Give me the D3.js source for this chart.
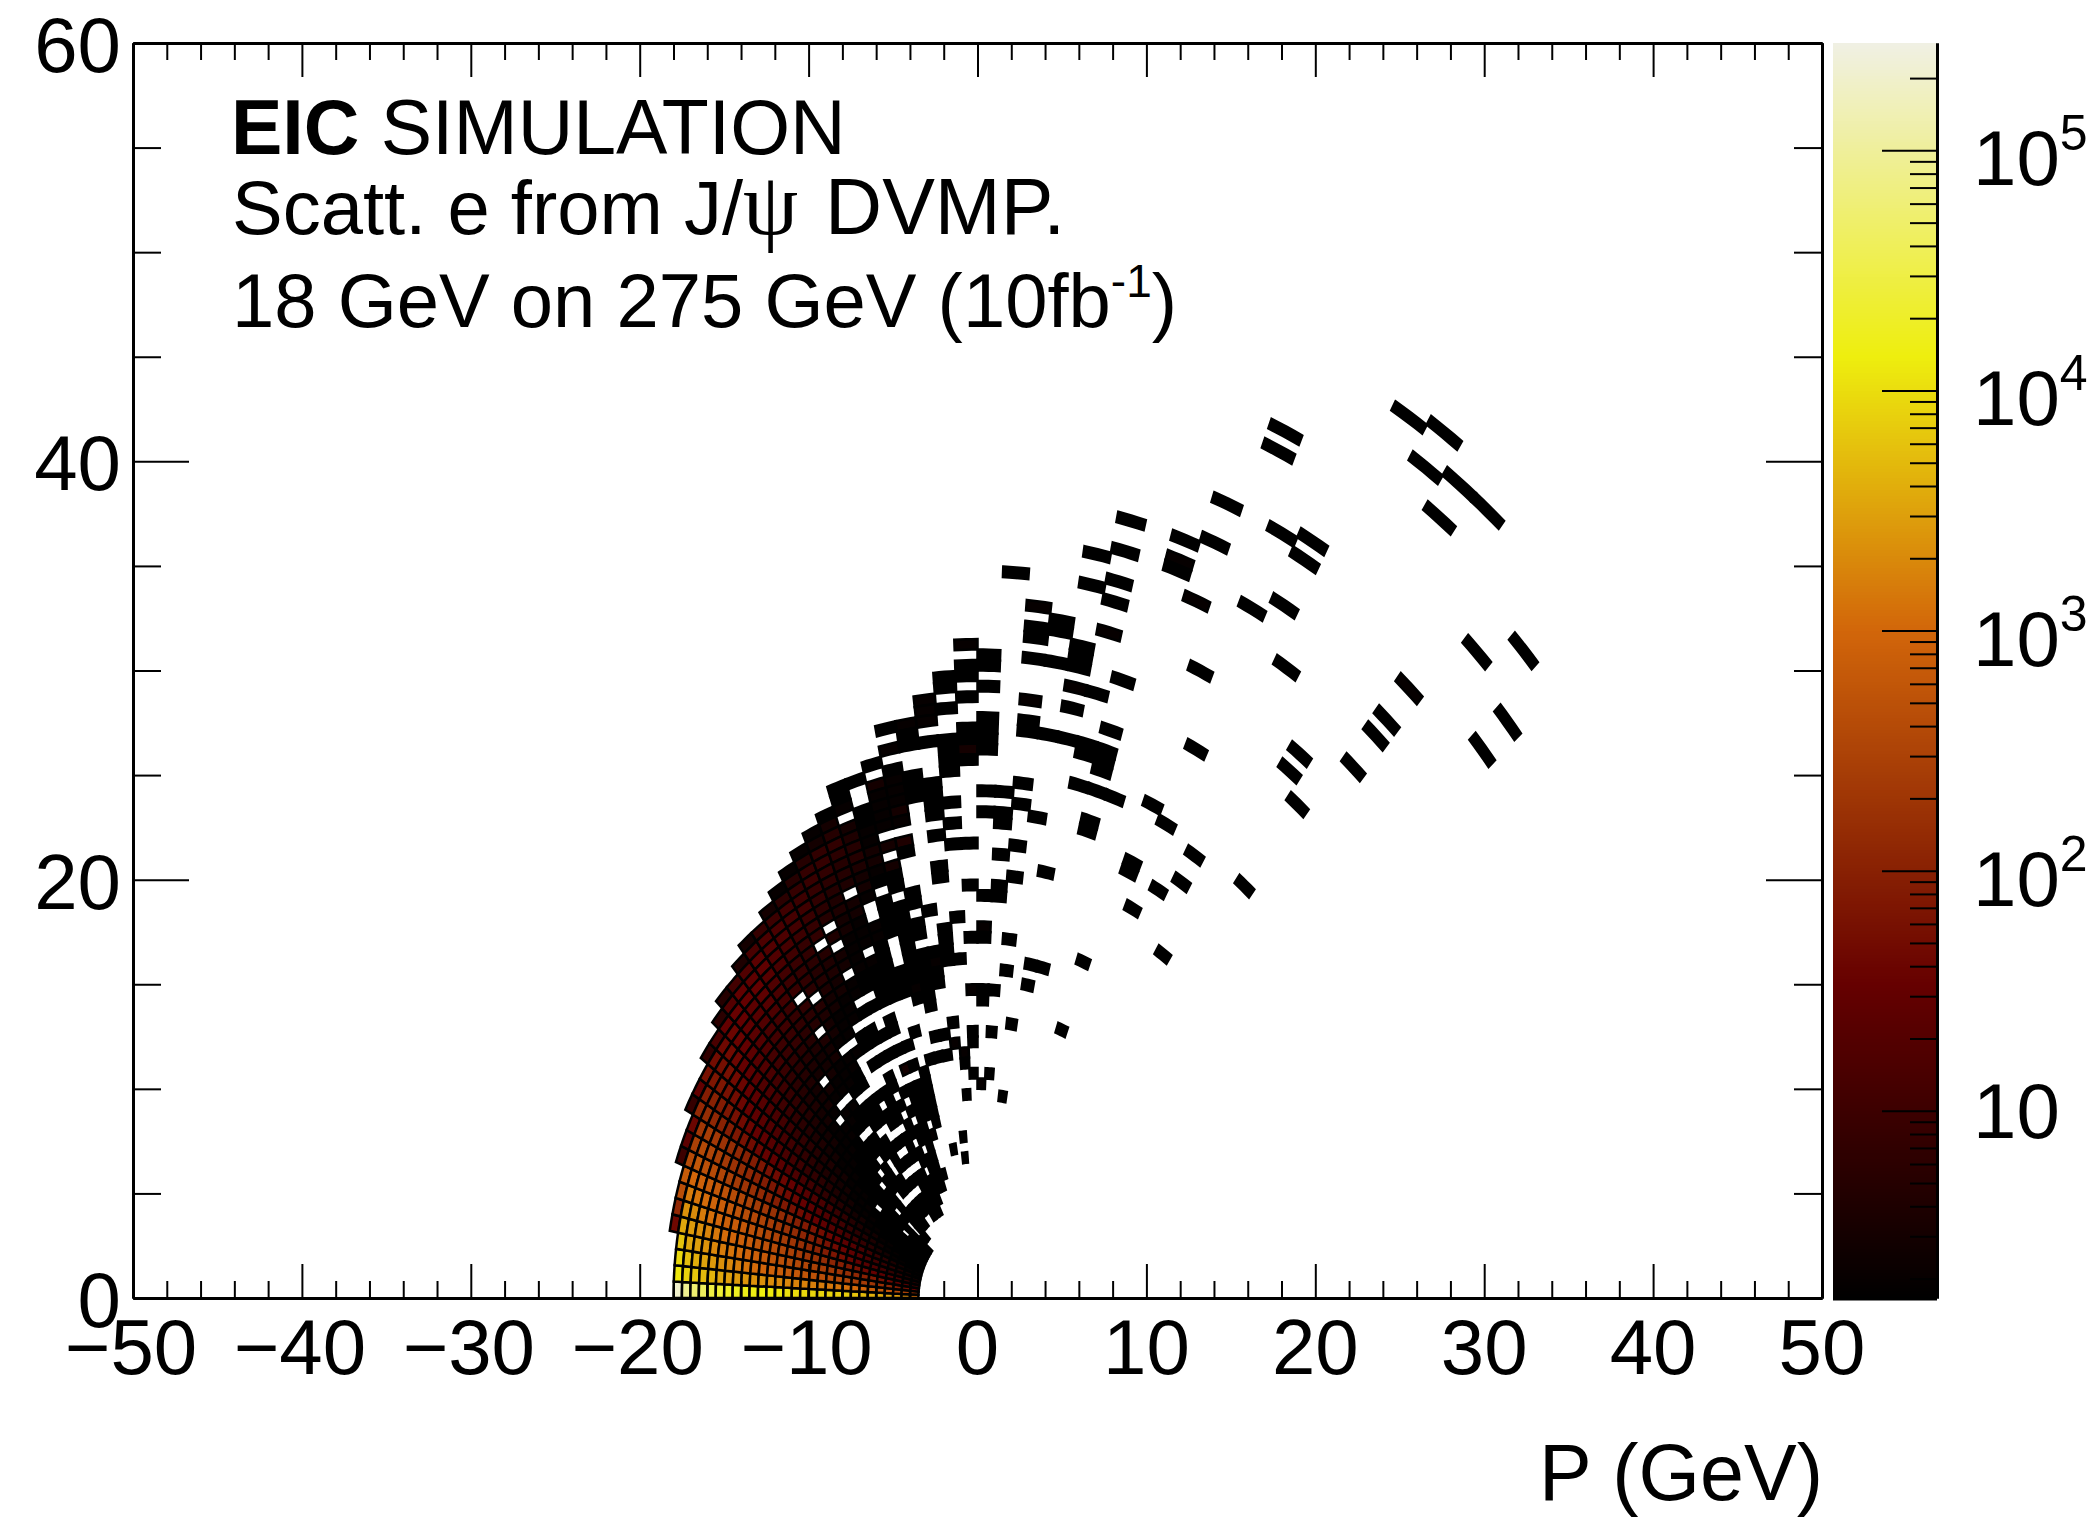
<!DOCTYPE html>
<html>
<head>
<meta charset="utf-8">
<script src="https://cdn.jsdelivr.net/npm/d3@7"></script>
<style>
  html, body { margin: 0; padding: 0; background: #fff; }
  svg { display: block; }
  text { font-family: "Liberation Sans", Arial, sans-serif; fill: #000; }
</style>
</head>
<body>
<script>
// Histogram binning: 0.5 GeV in P, 2.5 degrees in theta
const pBinWidth = 0.5;
const thetaBinWidth = 2.5;

// Outermost P bin of each dense theta row (counts below run inwards from it)
const rowOuter = [35,35,35,35,36,36,36,36,37,37,37,38,38,38,39,39,40,41,41,42,43,43,44,45,46,47,48,49,51,51,52,55,55,57,59,62,61];

// Counts per cell, one list per theta row, 0 means an empty cell
const rowCounts = [
  [200000,85000,55000,42000,30000,24000,20000,18000,16000,15000,14000,12500,11500,10500,10000,9000,8500,8200,8000,7500,7000,6000,5000,4000,3600,3200,2800,2000,1200],
  [12000,8000,6500,5000,4500,3500,3000,2800,2500,2300,2200,2100,2000,1900,1800,1700,1600,1500,1400,1300,1200,1050,900,800,650,500,400,280,180],
  [9000,5500,4000,3200,2600,2200,1900,1600,1300,1100,950,850,750,680,620,560,500,450,400,360,320,280,240,200,160,120,85,55,35],
  [6000,3500,3000,2400,1900,1500,1300,1100,900,800,650,550,480,420,370,330,290,250,220,190,160,130,100,80,60,45,30,20,12],
  [45,3500,2800,2200,1800,1400,1100,950,800,700,560,480,400,330,280,240,200,170,140,115,95,75,60,45,34,25,18,12,8,5],
  [130,2300,2000,1500,1200,1000,800,700,600,500,420,350,290,240,200,160,130,105,85,68,52,40,30,22,16,12,8,6,4,3],
  [450,1500,1300,1100,900,750,620,520,430,360,300,250,210,170,140,115,95,75,60,48,37,28,21,15,11,8,6,4,3,2],
  [700,1000,850,720,600,500,420,350,290,240,200,170,140,115,95,80,65,52,42,33,26,20,15,11,8,6,4,3,2,2],
  [10,400,600,480,400,340,280,230,190,160,135,110,90,75,60,50,42,34,28,22,17,13,10,8,6,4,3,2,2,1,1],
  [25,280,380,320,270,220,180,150,125,100,85,70,58,48,40,33,27,22,18,14,11,8,6,5,4,3,2,2,1,1,1],
  [40,210,260,220,180,150,125,100,85,70,58,48,40,33,27,22,18,15,12,9,7,5,4,3,3,2,2,1,1,1,1],
  [8,130,150,125,105,88,72,60,50,42,35,29,24,20,16,13,11,9,7,6,5,4,3,3,2,2,1,1,1,1,1,1],
  [30,90,100,85,70,58,48,40,33,27,22,18,15,12,10,8,7,6,5,4,3,3,2,2,2,1,1,1,1,1,1,1],
  [60,70,72,60,50,42,35,28,23,19,16,13,11,9,7,6,5,4,4,3,3,2,2,2,1,1,1,1,1,1,1,1],
  [7,50,55,58,48,40,33,27,22,18,15,12,10,8,7,6,5,4,4,3,3,2,2,2,1,0,1,1,1,0,1,1,1],
  [15,45,48,42,34,28,23,19,16,13,11,9,7,6,5,4,4,3,3,2,2,2,1,1,1,1,1,1,1,1,1,1,1],
  [6,32,40,38,32,26,22,18,15,12,10,8,7,6,5,4,3,3,3,2,2,2,1,1,1,1,1,1,0,1,0,0,1],
  [5,20,35,32,28,24,20,16,13,11,9,7,6,5,4,4,3,3,2,2,2,2,1,1,1,1,0,1,1,1,1,1,1,1],
  [12,30,32,26,22,18,15,12,10,9,7,6,5,4,3,3,3,2,0,2,2,1,1,1,1,0,1,1,0,0,1,1,1],
  [4,18,26,32,28,21,16,13,11,9,8,6,5,4,3,0,3,2,0,2,2,1,0,1,1,0,1,1,1,1,0,1,1,1],
  [3,14,25,28,22,18,15,12,10,8,7,6,5,4,3,3,3,2,2,0,2,1,1,0,1,1,1,0,0,1,1,0,1,1],
  [8,16,20,18,15,12,10,9,0,7,6,5,0,4,3,3,2,2,2,1,0,1,1,1,0,1,1,1,1,0,1,0,1,1],
  [3,10,15,16,13,11,9,8,7,6,0,5,4,3,3,2,0,2,2,1,1,0,1,1,1,0,0,1,0,1,0,1,0,1,1,1],
  [2,6,11,13,12,10,8,7,6,5,5,4,3,3,2,2,2,0,2,0,0,0,0,1,0,1,1,0,1,0,1,0,1,1,1,1,1],
  [2,5,8,10,11,9,8,7,0,5,4,4,3,3,2,2,2,0,1,1,0,1,0,0,1,1,1,1,0,1,1,1,0,1,1,1,1,1],
  [2,5,8,9,8,7,6,5,0,4,0,3,3,0,2,2,0,1,0,1,1,0,1,0,1,1,0,1,0,1,1,0,1,1,0,1,1,1],
  [2,3,7,8,7,6,5,4,4,3,3,2,2,2,2,1,1,0,1,0,0,1,0,1,0,0,0,1,0,1,0,1,1,0,1,1,1,1],
  [1,3,5,7,6,5,5,4,0,3,3,2,2,2,0,2,1,1,1,1,0,1,1,0,1,0,3,0,1,1,1,1,1,1,1,1,1,1,1],
  [1,1,2,0,3,4,5,5,4,3,3,2,0,0,2,2,1,1,1,1,1,1,0,0,0,0,1,0,1,0,1,1,1,1,0,2,0,0,0,1],
  [1,0,0,1,1,2,2,3,3,2,1,0,1,1,1,1,0,0,0,1,1,1,0,0,0,1,0,0,0,1,1,1,1,1,1],
  [1,0,3,2,2,2,2,0,3,0,3,1,1,0,1,1,1,1,1,1,1,1,2,1,0,0,0,0,0,1],
  [1,0,2,0,1,2,2,2,3,2,0,4,1,0,0,0,1,1,0,1,1,0,1,1,1,1,1,1,0,0,1,0,1,0,0,0,0,0,0,0,0,1],
  [2,1,1,0,0,1,1,1,0,0,0,0,0,0,0,0,0,0,1,0,0,0,1,2,1,1,0,0,0,0,1,0,1],
  [2,2,2,0,1,0,0,0,1,1,1,1,0,1,0,0,1,1,0,0,0,0,1,1,1,1,0,0,0,0,0,1,0,2,0,0,0,0,0,0,0,0,1,0,1],
  [1,1,0,1,0,0,1,1,1,1,0,0,1,0,1,0,1,0,0,0,0,0,0,1,0,0,0,1,0,0,0,0,0,0,0,0,2,1,0,0,1],
  [2,0,1,1,0,1,0,0,1,1,3,1,0,0,0,0,0,0,0,1,0,0,0,1,0,0,0,0,1,0,0,0,0,2,0,0,0,1,1,0,0,1],
  [1,1,0,1,0,0,1,1,1,1,0,0,0,1,0,1,0,0,0,0,0,0,0,1,0,0,2,1,0,0,0,0,1,1,0,0,0,0,0,0,0,2]
];

// Isolated single-count cells at large theta: [theta bin, P bins]
const sparseBins = [
  [37, [69,48,46,45,42,39,38,29,25,21]],
  [38, [66,64,63,61,57,55,54,49,47,43,40,34,31]],
  [39, [65,64,61,54,46,26,19]],
  [40, [72,69,63,62,61,59,57,54,41,32,30]],
  [41, [76,73,70,68,65,59,54,53,50,32]],
  [42, [61,56,54,53,52,50,47,46]],
  [43, [76,74,73,50]],
  [44, [81,77,71,34,27]],
  [45, [90,88,65,51,45,44]],
  [46, [81,73,58,50,41]],
  [47, [82,80,75,44]],
  [48, [98,70,49,46]],
  [49, [99,95,39]],
  [50, [96,92,64,62]],
  [51, [96,60,50]],
  [52, [77,73,71,67]],
  [53, [85]],
  [54, [89]],
  [55, [83,79]]
];
// a few of the far cells are faintly red
const faintCells = [[43,74],[44,71],[41,65],[52,77],[40,59],[38,57],[38,66]];

// Tick values
const xMajorTicks = [-50,-40,-30,-20,-10,0,10,20,30,40,50];
const xMinorTicks = [-48,-46,-44,-42,-38,-36,-34,-32,-28,-26,-24,-22,-18,-16,-14,-12,-8,-6,-4,-2,
  2,4,6,8,12,14,16,18,22,24,26,28,32,34,36,38,42,44,46,48];
const yMajorTicks = [0,20,40,60];
const yMinorTicks = [5,10,15,25,30,35,45,50,55];
const zMajorTicks = [10,100,1000,10000,100000];
const zMinorTicks = [2,3,4,5,6,7,8,9,20,30,40,50,60,70,80,90,200,300,400,500,600,700,800,900,
  2000,3000,4000,5000,6000,7000,8000,9000,20000,30000,40000,50000,60000,70000,80000,90000,200000];
const zExponents = ['', '2', '3', '4', '5'];

// Palette stops
const paletteCounts = [1.66, 34, 1000, 13800, 280000];
const paletteColors = ['#000000', '#660000', '#d2660a', '#eeee0e', '#f0f0e4'];

const frame = { left: 133, right: 1822, top: 43, bottom: 1298 };
const bar = { left: 1833, right: 1937 };

const svg = d3.select('body').append('svg').attr('width', 2090).attr('height', 1517);

const x = d3.scaleLinear().domain([-50, 50]).range([frame.left, frame.right]);
const y = d3.scaleLinear().domain([0, 60]).range([frame.bottom, frame.top]);
const zColor = d3.scaleLog().domain(paletteCounts).range(paletteColors).clamp(true);
const zAxisScale = d3.scaleLog().domain([1.66, 280000]).range([frame.bottom, frame.top]);

// Collect all filled cells
const cells = [];
rowCounts.forEach((row, i) => {
  row.forEach((count, k) => {
    if (count > 0) cells.push({ theta: i, p: rowOuter[i] - k, count });
  });
});
sparseBins.forEach(([theta, bins]) => {
  bins.forEach(p => {
    const faint = faintCells.some(f => f[0] === theta && f[1] === p);
    cells.push({ theta, p, count: faint ? 2 : 1 });
  });
});

// Polar bin to path. Theta runs from the negative x axis towards the positive one.
const toXY = (r, thetaDeg) => {
  const a = thetaDeg * Math.PI / 180;
  return [x(-r * Math.cos(a)), y(r * Math.sin(a))];
};
const cellLine = d3.line();
function cellPath(c) {
  const r0 = c.p * pBinWidth, r1 = r0 + pBinWidth;
  const t0 = c.theta * thetaBinWidth, t1 = t0 + thetaBinWidth;
  const steps = [0, 0.25, 0.5, 0.75, 1].map(f => t0 + f * (t1 - t0));
  const pts = steps.map(t => toXY(r1, t)).concat(steps.slice().reverse().map(t => toXY(r0, t)));
  return cellLine(pts) + 'Z';
}

svg.append('g').selectAll('path')
  .data(cells)
  .join('path')
  .attr('d', cellPath)
  .attr('fill', d => zColor(d.count))
  .attr('stroke', '#000')
  .attr('stroke-width', 2.5);

// Colour bar
const barSteps = d3.range(frame.top, frame.bottom, 3);
svg.append('g').selectAll('rect')
  .data(barSteps)
  .join('rect')
  .attr('x', bar.left)
  .attr('y', d => d)
  .attr('width', bar.right - bar.left)
  .attr('height', 3.5)
  .attr('fill', d => zColor(zAxisScale.invert(d + 1.5)));

// Frame axes
function styleAxis(g) {
  g.selectAll('path.domain').attr('stroke', '#000').attr('stroke-width', 3);
  g.selectAll('.tick line').attr('stroke', '#000').attr('stroke-width', 2);
  g.selectAll('.tick text').remove();
}

function addAxis(generator, major, minor, majorLen, minorLen, tx, ty) {
  svg.append('g').attr('transform', `translate(${tx},${ty})`)
    .call(generator.tickValues(minor).tickSize(-minorLen).tickSizeOuter(0))
    .call(styleAxis);
  svg.append('g').attr('transform', `translate(${tx},${ty})`)
    .call(generator.tickValues(major).tickSize(-majorLen).tickSizeOuter(0))
    .call(styleAxis);
}

addAxis(d3.axisBottom(x), xMajorTicks, xMinorTicks, 34, 17, 0, frame.bottom);
addAxis(d3.axisTop(x), xMajorTicks, xMinorTicks, 34, 17, 0, frame.top);
addAxis(d3.axisLeft(y), yMajorTicks, yMinorTicks, 56, 28, frame.left, 0);
addAxis(d3.axisRight(y), yMajorTicks, yMinorTicks, 56, 28, frame.right, 0);
addAxis(d3.axisRight(zAxisScale), zMajorTicks, zMinorTicks, 55, 27, bar.right, 0);

// Tick labels
const tickFont = 78;
svg.append('g').selectAll('text')
  .data(xMajorTicks)
  .join('text')
  .attr('x', d => x(d) - (d < 0 ? 2 : 0))
  .attr('y', 1374)
  .attr('text-anchor', 'middle')
  .attr('font-size', tickFont)
  .text(d => (d < 0 ? '\u2212' + Math.abs(d) : d));

svg.append('g').selectAll('text')
  .data(yMajorTicks)
  .join('text')
  .attr('x', 121)
  .attr('y', d => y(d) + 29)
  .attr('text-anchor', 'end')
  .attr('font-size', tickFont)
  .text(d => d);

// Colour bar labels, exponent baseline sits on the tick
const zLabels = svg.append('g').selectAll('text')
  .data(zMajorTicks)
  .join('text')
  .attr('x', 1973)
  .attr('y', (d, i) => zAxisScale(d) + (i === 0 ? 27 : 35))
  .attr('font-size', 78);
zLabels.append('tspan').text('10');
zLabels.append('tspan')
  .attr('font-size', 50)
  .attr('dy', (d, i) => (i === 0 ? 0 : -35))
  .text((d, i) => zExponents[i]);

// Annotation
const note = svg.append('g');
const line1 = note.append('text').attr('x', 231).attr('y', 154).attr('font-size', 77);
line1.append('tspan').attr('font-weight', 'bold').text('EIC');
line1.append('tspan').text(' SIMULATION');

const line2 = note.append('text').attr('x', 232).attr('y', 234).attr('font-size', 76);
line2.append('tspan').text('Scatt. e from J/');
line2.append('tspan').style('font-family', '"Liberation Serif", serif').attr('font-size', 88).text('\u03c8');
line2.append('tspan').attr('dx', 5).attr('font-size', 79).text(' DVMP.');

const line3 = note.append('text').attr('x', 232).attr('y', 327).attr('font-size', 76);
line3.append('tspan').text('18 GeV on 275 GeV (10fb');
line3.append('tspan').attr('font-size', 46).attr('dy', -30).text('-1');
line3.append('tspan').attr('dy', 30).text(')');

svg.append('text')
  .attr('x', 1823)
  .attr('y', 1500)
  .attr('text-anchor', 'end')
  .attr('font-size', 79)
  .text('P (GeV)');
</script>
</body>
</html>
